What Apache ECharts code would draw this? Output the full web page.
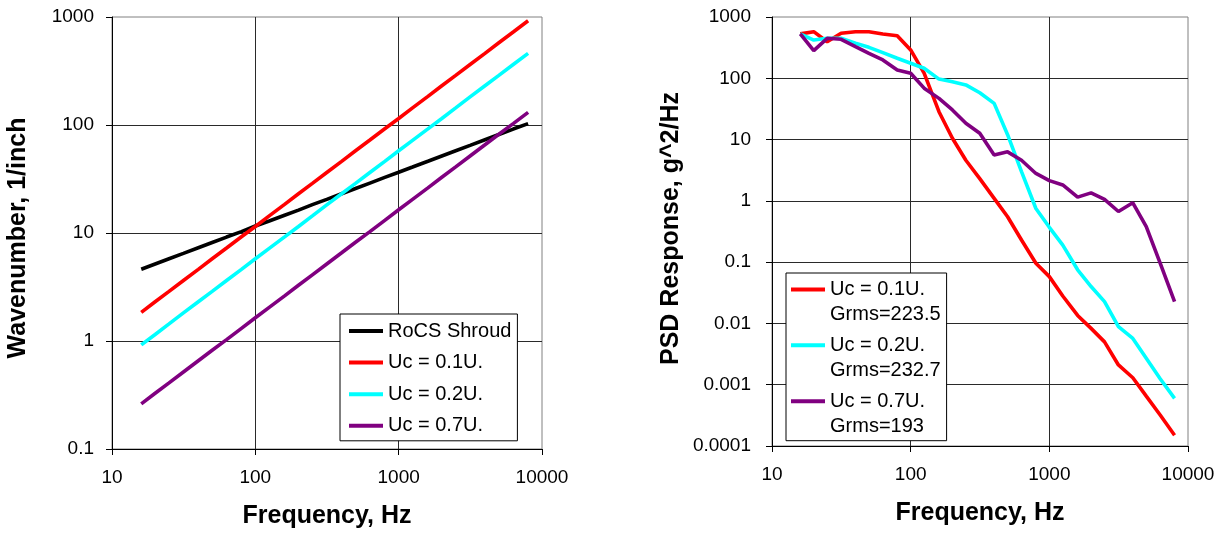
<!DOCTYPE html>
<html>
<head>
<meta charset="utf-8">
<script src="https://cdn.jsdelivr.net/npm/echarts@6/dist/echarts.min.js"></script>
<style>
html,body{margin:0;padding:0;background:#fff;}
#chart{width:1225px;height:534px;}
</style>
</head>
<body>
<div id="chart"></div>
<script>
// ---------- data ----------
const freqs = [16,20,25,31.5,40,50,63,80,100,125,160,200,250,315,400,500,630,800,1000,1250,1600,2000,2500,3150,4000,5000,6300,8000];

// Left chart: wavenumber, 1/inch
const leftNames = ['RoCS Shroud','Uc = 0.1U.','Uc = 0.2U.','Uc = 0.7U.'];
const rocsShroud = [4.62,5.17,5.78,6.48,7.31,8.17,9.17,10.3,11.6,12.9,14.6,16.3,18.3,20.5,23.1,25.8,29.0,32.7,36.5,40.8,46.2,51.7,57.8,64.8,73.1,81.7,91.7,103];
const uc01Wave = [1.84,2.31,2.88,3.63,4.61,5.77,7.26,9.22,11.5,14.4,18.4,23.1,28.8,36.3,46.1,57.7,72.6,92.2,115,144,184,231,288,363,461,577,726,922];
const uc02Wave = [0.92,1.15,1.44,1.82,2.31,2.88,3.63,4.61,5.77,7.2,9.2,11.5,14.4,18.2,23.1,28.8,36.3,46.1,57.7,72,92,115,144,182,231,288,363,461];
const uc07Wave = [0.262,0.328,0.41,0.517,0.656,0.82,1.03,1.31,1.64,2.05,2.62,3.28,4.1,5.17,6.56,8.2,10.3,13.1,16.4,20.5,26.2,32.8,41,51.7,65.6,82,103,131];

// Right chart: PSD response, g^2/Hz
const rightNames = ['Uc = 0.1U.\nGrms=223.5','Uc = 0.2U.\nGrms=232.7','Uc = 0.7U.\nGrms=193'];
const uc01Psd = [530,576,395,542,576,576,528,495,290,121,28.5,10.5,4.6,2.3,1.1,0.55,0.23,0.096,0.058,0.028,0.0135,0.0083,0.005,0.0021,0.0013,0.00065,0.00032,0.00015];
const uc02Psd = [530,421,449,449,373,320,262,212,176,146,97,88,78,58,39,12,3.0,0.75,0.37,0.19,0.075,0.040,0.0227,0.0089,0.0057,0.0027,0.00125,0.0006];
const uc07Psd = [530,282,449,433,328,255,199,137,121,69,47,30.4,18.5,12.7,5.6,6.3,4.6,2.8,2.14,1.82,1.15,1.35,1.06,0.67,0.93,0.38,0.096,0.0227];

// tick labels
const xTickLabels = ['10','100','1000','10000'];
const leftYTickLabels = ['0.1','1','10','100','1000'];
const rightYTickLabels = ['0.0001','0.001','0.01','0.1','1','10','100','1000'];

const colors = {black:'#000000', red:'#FF0000', cyan:'#00FFFF', purple:'#800080'};
const FONT = '"Liberation Sans", Arial, sans-serif';

// ---------- helpers ----------
function pairs(ys){ return freqs.map((f,i)=>[f, ys[i]]); }
function labelFmt(labels){
  return function(v){
    for (const l of labels){
      if (Math.abs(Math.log10(parseFloat(l)) - Math.log10(v)) < 0.01) return l;
    }
    return '';
  };
}
function mkX(gi){
  return {
    type:'log', logBase:10, gridIndex:gi, min:10, max:10000, splitNumber:3,
    axisLine:{show:true, onZero:false, lineStyle:{color:'#000', width:1}},
    axisTick:{show:true, inside:false, length:6, lineStyle:{color:'#000'}},
    axisLabel:{margin:19, fontSize:19, color:'#000', fontFamily:FONT,
      showMinLabel:true, showMaxLabel:true, formatter:labelFmt(xTickLabels)},
    splitLine:{show:true, showMinLine:false, showMaxLine:false, lineStyle:{color:'#2a2a2a', width:1}},
    minorTick:{show:false}, minorSplitLine:{show:false},
    name:'Frequency, Hz', nameLocation:'middle', nameGap:55,
    nameTextStyle:{fontSize:25, fontWeight:'bold', color:'#000', fontFamily:FONT}
  };
}
function mkY(gi, min, max, labels, name, gap, margin, pad){
  return {
    type:'log', logBase:10, gridIndex:gi, min:min, max:max,
    splitNumber: Math.round(Math.log10(max/min)),
    axisLine:{show:true, onZero:false, lineStyle:{color:'#000', width:1}},
    axisTick:{show:true, inside:false, length:6, lineStyle:{color:'#000'}},
    axisLabel:{margin:margin, fontSize:19, color:'#000', fontFamily:FONT,
      showMinLabel:true, showMaxLabel:true, formatter:labelFmt(labels)},
    splitLine:{show:true, showMinLine:false, showMaxLine:false, lineStyle:{color:'#2a2a2a', width:1}},
    minorTick:{show:false}, minorSplitLine:{show:false},
    name:name, nameLocation:'middle', nameRotate:90, nameGap:gap,
    nameTextStyle:{fontSize:25, fontWeight:'bold', color:'#000', fontFamily:FONT, padding:pad}
  };
}
function mkLine(name, gi, ys, color){
  return {
    name:name, type:'line', xAxisIndex:gi, yAxisIndex:gi, data:pairs(ys),
    symbol:'none', showSymbol:false, smooth:false,
    lineStyle:{color:color, width:3.6}, itemStyle:{color:color},
    emphasis:{disabled:true}, z:3
  };
}

const option = {
  animation:false,
  backgroundColor:'#fff',
  textStyle:{fontFamily:FONT},
  grid:[
    {left:112, top:17, width:430, height:433, show:true, borderColor:'#808080', borderWidth:1, backgroundColor:'transparent'},
    {left:772, top:17, width:416, height:429, show:true, borderColor:'#808080', borderWidth:1, backgroundColor:'transparent'}
  ],
  xAxis:[mkX(0), mkX(1)],
  yAxis:[
    mkY(0, 0.1, 1000, leftYTickLabels, 'Wavenumber, 1/inch', 81, 18, [0,10,0,0]),
    mkY(1, 0.0001, 1000, rightYTickLabels, 'PSD Response, g^2/Hz', 88, 21, [0,0,0,6])
  ],
  legend:[
    {
      data:leftNames, orient:'vertical', left:340, top:314,
      padding:[7,6,5,9], itemGap:11.6, itemWidth:34, itemHeight:4, icon:'rect',
      backgroundColor:'#fff', borderColor:'#000', borderWidth:1, borderRadius:0,
      selectedMode:false,
      itemStyle:{borderWidth:0},
      textStyle:{fontSize:20, lineHeight:20, color:'#000', fontFamily:FONT}
    },
    {
      data:rightNames, orient:'vertical', left:786, top:273,
      padding:[4,6,2,5], itemGap:5.85, itemWidth:34, itemHeight:50,
      icon:'path://M0,0L0,0M0,10.5L34,10.5L34,14.5L0,14.5ZM34,50L34,50',
      backgroundColor:'#fff', borderColor:'#000', borderWidth:1, borderRadius:0,
      selectedMode:false,
      itemStyle:{borderWidth:0},
      textStyle:{fontSize:20, lineHeight:25, color:'#000', fontFamily:FONT}
    }
  ],
  series:[
    mkLine(leftNames[0], 0, rocsShroud, colors.black),
    mkLine(leftNames[1], 0, uc01Wave, colors.red),
    mkLine(leftNames[2], 0, uc02Wave, colors.cyan),
    mkLine(leftNames[3], 0, uc07Wave, colors.purple),
    mkLine(rightNames[0], 1, uc01Psd, colors.red),
    mkLine(rightNames[1], 1, uc02Psd, colors.cyan),
    mkLine(rightNames[2], 1, uc07Psd, colors.purple)
  ]
};

const chart = echarts.init(document.getElementById('chart'), null, {renderer:'canvas'});
chart.setOption(option);
</script>
</body>
</html>
